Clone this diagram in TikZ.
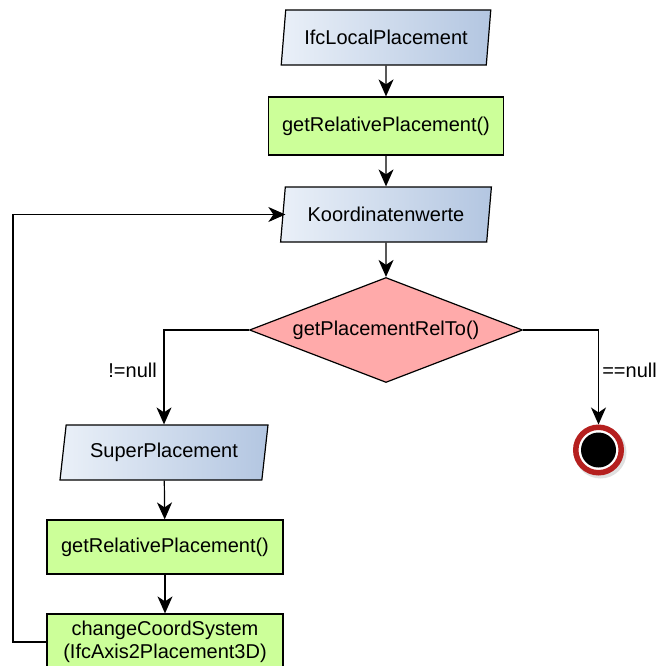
\documentclass[tikz,border=0pt]{standalone}
\usepackage{fontspec}
\setmainfont{Liberation Sans}
\usetikzlibrary{shapes.geometric,arrows.meta,calc}

\definecolor{procgreen}{HTML}{CCFF99}
\definecolor{decpink}{HTML}{FFAAAA}
\definecolor{datalight}{HTML}{EAF0F8}
\definecolor{datadark}{HTML}{B3C6E1}
\definecolor{endred}{HTML}{B5201F}

\tikzset{
  every node/.style={font=\fontsize{20}{24}\selectfont},
  databox/.style={trapezium, trapezium left angle=76, trapezium right angle=104,
    trapezium stretches=true, draw=black, line width=1.2pt,
    left color=datalight, right color=datadark, inner sep=0pt},
  procbox/.style={rectangle, draw=black, line width=1.2pt, fill=procgreen,
    inner sep=0pt, align=center},
  decision/.style={diamond, draw=black, line width=1.2pt, fill=decpink,
    inner sep=0pt, aspect=2.6},
  flow/.style={draw=black, line width=1.2pt,
    -{Stealth[length=17pt, width=15pt, inset=5pt]}},
  guard/.style={inner sep=0pt}
}

\begin{document}
\begin{tikzpicture}[x=1pt, y=-1pt]
  \clip (0,0) rectangle (659,666);

  % main column
  \node[databox, minimum width=210pt, minimum height=55pt] (loc) at (386,37.5) {IfcLocalPlacement};
  \node[procbox, minimum width=235pt, minimum height=58pt] (rel1) at (386,126) {getRelativePlacement()};
  \node[databox, minimum width=211pt, minimum height=55pt] (koord) at (386,214.5) {Koordinatenwerte};
  \node[decision, minimum width=273pt, minimum height=105pt] (test) at (386,330) {getPlacementRelTo()};

  % loop column
  \node[databox, minimum width=208pt, minimum height=55pt] (super) at (164,452.5) {SuperPlacement};
  \node[procbox, minimum width=236pt, minimum height=54pt] (rel2) at (165,547) {getRelativePlacement()};
  \node[procbox, minimum width=236pt, minimum height=56pt] (change) at (165,642) {changeCoordSystem\\[-1pt](IfcAxis2Placement3D)};

  % end state
  \fill[black, opacity=0.12] (600.5,452.5) circle (26pt);
  \node[circle, draw=endred, line width=5.5pt, fill=white, minimum size=45.5pt, inner sep=0pt] (stop) at (598.5,450) {};
  \fill[black] (stop.center) circle (17.5pt);

  % connectors
  \draw[flow] (loc) -- (rel1);
  \draw[flow] (rel1) -- (koord);
  \draw[flow] (koord) -- (test);
  \draw[flow] (test.west) -| (super.north);
  \draw[flow] (test.east) -| (stop.north);
  \draw[flow] (super) -- (rel2);
  \draw[flow] (rel2.south -| change.north) -- (change.north);

  \coordinate (back) at (13,0);
  \draw[flow] (change.west) -- (change.west -| back) |- ($(koord.west)+(3,0)$);

  % guards
  \node[guard, anchor=east] (ne) at (157,370) {!=null};
  \node[guard, anchor=east] (eq) at (657,370) {==null};
\end{tikzpicture}
\end{document}
